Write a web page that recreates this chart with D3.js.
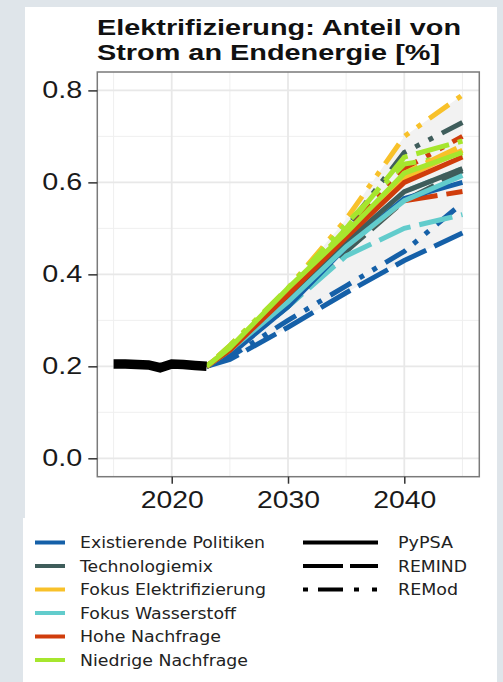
<!DOCTYPE html>
<html>
<head>
<meta charset="utf-8">
<script src="https://cdn.jsdelivr.net/npm/d3@7"></script>
<style>
  body { margin: 0; background: #dfe5ea; }
  svg { display: block; }
</style>
</head>
<body>
<div id="chart"></div>
<script>
// historische Werte
var histYears = [2015, 2016, 2017, 2018, 2019, 2020, 2021, 2022, 2023];
var histValues = [0.205, 0.205, 0.204, 0.203, 0.197, 0.205, 0.204, 0.202, 0.2];

var scenarios = ["Existierende Politiken", "Technologiemix", "Fokus Elektrifizierung",
                 "Fokus Wasserstoff", "Hohe Nachfrage", "Niedrige Nachfrage"];
var scenarioColors = ["#1560a8", "#3f5d5b", "#f8c12a", "#62cccc", "#d03d0c", "#a6e62e"];
var models = ["PyPSA", "REMIND", "REMod"];

var projYears = [2023, 2025, 2030, 2035, 2040, 2045];
// eine Zeile je Szenario
var pypsaValues = [
  [0.2, 0.225, 0.33, 0.46, 0.565, 0.60],
  [0.2, 0.235, 0.345, 0.47, 0.58, 0.63],
  [0.2, 0.24, 0.365, 0.49, 0.61, 0.67],
  [0.2, 0.235, 0.34, 0.46, 0.56, 0.615],
  [0.2, 0.235, 0.355, 0.48, 0.60, 0.655],
  [0.2, 0.24, 0.37, 0.49, 0.62, 0.665]
];
var remindValues = [
  [0.2, 0.215, 0.285, 0.36, 0.43, 0.49],
  [0.2, 0.23, 0.33, 0.45, 0.56, 0.625],
  [0.2, 0.235, 0.35, 0.48, 0.62, 0.68],
  [0.2, 0.23, 0.33, 0.44, 0.50, 0.53],
  [0.2, 0.23, 0.34, 0.46, 0.56, 0.58],
  [0.2, 0.24, 0.36, 0.50, 0.655, 0.69]
];
var remodValues = [
  [0.2, 0.22, 0.30, 0.375, 0.45, 0.555],
  [0.2, 0.235, 0.35, 0.50, 0.665, 0.73],
  [0.2, 0.245, 0.37, 0.52, 0.70, 0.79],
  [0.2, 0.235, 0.34, 0.46, 0.58, 0.63],
  [0.2, 0.24, 0.36, 0.49, 0.63, 0.70],
  [0.2, 0.245, 0.37, 0.51, 0.64, 0.66]
];

var yTicks = [0, 0.2, 0.4, 0.6, 0.8];
var xTicks = [2020, 2030, 2040];

var W = 503, H = 682;
var svg = d3.select("#chart").append("svg").attr("width", W).attr("height", H);

// weisse Flaechen
svg.append("rect").attr("x", 25).attr("y", 7).attr("width", 472).attr("height", 512).attr("fill", "#fff");
svg.append("rect").attr("x", 23).attr("y", 518).attr("width", 474).attr("height", 170).attr("fill", "#fff");

var x = d3.scaleLinear().domain([2013.6, 2046.45]).range([97.3, 479.3]);
var y = d3.scaleLinear().domain([-0.04, 0.84]).range([476.7, 72]);

// gitter
var g = svg.append("g");
var minorY = [0.1, 0.3, 0.5, 0.7];
var minorX = [2015, 2025, 2035, 2045];
g.selectAll(".minY").data(minorY).enter().append("line")
  .attr("x1", x.range()[0]).attr("x2", x.range()[1])
  .attr("y1", function(d) { return y(d); }).attr("y2", function(d) { return y(d); })
  .attr("stroke", "#efefef").attr("stroke-width", 1);
g.selectAll(".minX").data(minorX).enter().append("line")
  .attr("y1", y.range()[0]).attr("y2", y.range()[1])
  .attr("x1", function(d) { return x(d); }).attr("x2", function(d) { return x(d); })
  .attr("stroke", "#efefef").attr("stroke-width", 1);
g.selectAll(".majY").data(yTicks).enter().append("line")
  .attr("x1", x.range()[0]).attr("x2", x.range()[1])
  .attr("y1", function(d) { return y(d); }).attr("y2", function(d) { return y(d); })
  .attr("stroke", "#e8e8e8").attr("stroke-width", 1.8);
g.selectAll(".majX").data(xTicks).enter().append("line")
  .attr("y1", y.range()[0]).attr("y2", y.range()[1])
  .attr("x1", function(d) { return x(d); }).attr("x2", function(d) { return x(d); })
  .attr("stroke", "#e8e8e8").attr("stroke-width", 1.8);

// alle projektionen
var series = [];
var modelData = [pypsaValues, remindValues, remodValues];
scenarios.forEach(function(s, i) {
  models.forEach(function(m, j) {
    series.push({ scenario: i, model: m, values: modelData[j][i] });
  });
});

// band min/max
var band = projYears.map(function(yr, k) {
  var vals = series.map(function(s) { return s.values[k]; });
  return { year: yr, lo: d3.min(vals), hi: d3.max(vals) };
});
var area = d3.area()
  .x(function(d) { return x(d.year); })
  .y0(function(d) { return y(d.lo); })
  .y1(function(d) { return y(d.hi); });
svg.append("path").datum(band).attr("d", area).attr("fill", "#f2f2f2");

var dashes = { "PyPSA": null, "REMIND": "34,9", "REMod": "5,10,24,10,5,10" };
var line = d3.line()
  .x(function(d, k) { return x(projYears[k]); })
  .y(function(d) { return y(d); });

// erst gestrichelte, dann durchgezogene
var order = ["REMod", "REMIND", "PyPSA"];
order.forEach(function(m) {
  series.filter(function(s) { return s.model == m; }).forEach(function(s) {
    svg.append("path").datum(s.values)
      .attr("d", line)
      .attr("fill", "none")
      .attr("stroke", scenarioColors[s.scenario])
      .attr("stroke-width", 5)
      .attr("stroke-dasharray", dashes[m])
      .attr("stroke-linecap", "butt");
  });
});

// historisch
var histLine = d3.line()
  .x(function(d, k) { return x(histYears[k]); })
  .y(function(d) { return y(d); });
svg.append("path").datum(histValues).attr("d", histLine)
  .attr("fill", "none").attr("stroke", "#000").attr("stroke-width", 9.5);

// rahmen
svg.append("rect")
  .attr("x", x.range()[0]).attr("y", y.range()[1])
  .attr("width", x.range()[1] - x.range()[0]).attr("height", y.range()[0] - y.range()[1])
  .attr("fill", "none").attr("stroke", "#7a7a7a").attr("stroke-width", 1.5);

// achsen
var yAxis = svg.append("g").attr("transform", "translate(" + x.range()[0] + ",0)")
  .call(d3.axisLeft(y).tickValues(yTicks).tickFormat(d3.format(".1f")).tickSize(9).tickPadding(6));
var xAxis = svg.append("g").attr("transform", "translate(0," + y.range()[0] + ")")
  .call(d3.axisBottom(x).tickValues(xTicks).tickFormat(d3.format("d")).tickSize(7).tickPadding(8));
[yAxis, xAxis].forEach(function(a) {
  a.select(".domain").remove();
  a.selectAll("line").attr("stroke", "#333").attr("stroke-width", 1.5);
  a.selectAll("text").attr("fill", "#1a1a1a")
    .style("font-family", "'Liberation Sans', Arial, sans-serif").style("font-size", "23px");
});
yAxis.selectAll("text").attr("textLength", 40).attr("lengthAdjust", "spacingAndGlyphs");
xAxis.selectAll("text").attr("textLength", 63).attr("lengthAdjust", "spacingAndGlyphs");

// titel
var titleLines = ["Elektrifizierung: Anteil von", "Strom an Endenergie [%]"];
var titleWidths = [364, 343];
svg.selectAll(".title").data(titleLines).enter().append("text")
  .attr("x", 97).attr("y", function(d, i) { return 35 + i * 24.5; })
  .attr("textLength", function(d, i) { return titleWidths[i]; })
  .attr("lengthAdjust", "spacingAndGlyphs")
  .style("font-family", "'Liberation Sans', Arial, sans-serif")
  .style("font-weight", "bold").style("font-size", "22.5px")
  .attr("fill", "#111").text(function(d) { return d; });

// legende
var legFont = "'DejaVu Sans', sans-serif";
var legWidths = [185, 133, 186, 156, 141, 168];
var leg = svg.append("g");
scenarios.forEach(function(s, i) {
  var cy = 542.5 + i * 23.5;
  leg.append("line").attr("x1", 35).attr("x2", 65).attr("y1", cy).attr("y2", cy)
    .attr("stroke", scenarioColors[i]).attr("stroke-width", 4);
  leg.append("text").attr("x", 80).attr("y", cy + 5.5).text(s)
    .attr("textLength", legWidths[i]).attr("lengthAdjust", "spacingAndGlyphs")
    .style("font-family", legFont).style("font-size", "15px").attr("fill", "#222");
});
var legDash = { "PyPSA": null, "REMIND": "40,7", "REMod": "5,10,25,11,5,13" };
var modelWidths = [55, 69, 60];
models.forEach(function(m, i) {
  var cy = 542.5 + i * 23.5;
  leg.append("line").attr("x1", 303).attr("x2", 378).attr("y1", cy).attr("y2", cy)
    .attr("stroke", "#000").attr("stroke-width", 4).attr("stroke-dasharray", legDash[m]);
  leg.append("text").attr("x", 398).attr("y", cy + 5.5).text(m)
    .attr("textLength", modelWidths[i]).attr("lengthAdjust", "spacingAndGlyphs")
    .style("font-family", legFont).style("font-size", "15px").attr("fill", "#222");
});
</script>
</body>
</html>
